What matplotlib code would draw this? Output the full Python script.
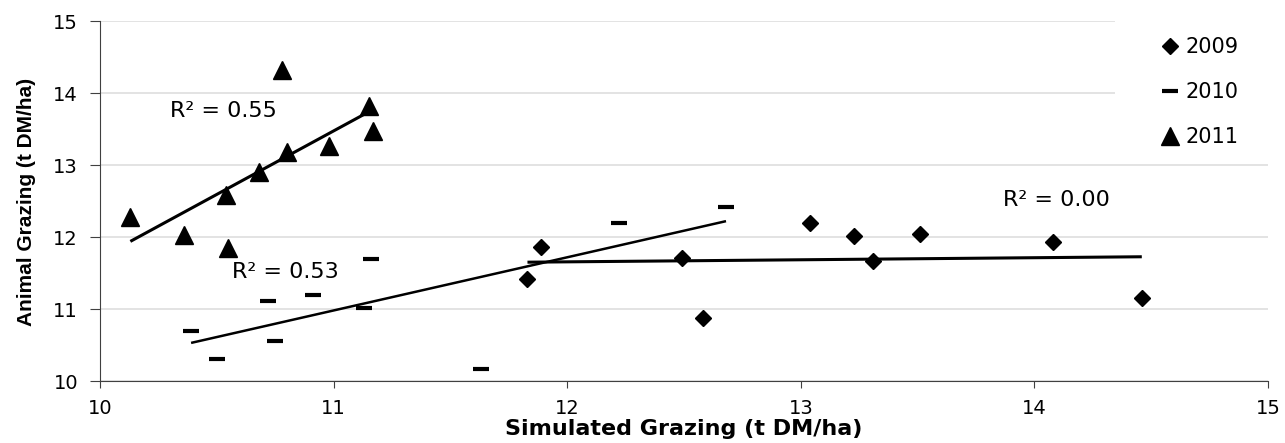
import numpy as np
import matplotlib
matplotlib.use("Agg")
import matplotlib.pyplot as plt
from matplotlib.patches import Rectangle

# the reference is stretched sideways, so the wider DejaVu Sans fits it better
plt.rcParams['font.family'] = ['DejaVu Sans']

# values
x_2009 = [11.83, 11.89, 12.49, 12.58, 13.04, 13.23, 13.31, 13.51, 14.08, 14.46]
y_2009 = [11.42, 11.86, 11.71, 10.88, 12.19, 12.01, 11.66, 12.04, 11.93, 11.15]

x_2010 = [10.39, 10.50, 10.72, 10.75, 10.91, 11.13, 11.16, 11.63, 12.22, 12.68]
y_2010 = [10.69, 10.30, 11.11, 10.56, 11.19, 11.01, 11.70, 10.16, 12.20, 12.42]

x_2011 = [10.13, 10.36, 10.54, 10.55, 10.68, 10.78, 10.80, 10.98, 11.15, 11.17]
y_2011 = [12.28, 12.03, 12.58, 11.85, 12.90, 14.32, 13.18, 13.26, 13.82, 13.47]

r2_labels = ["R\u00b2 = 0.00", "R\u00b2 = 0.53", "R\u00b2 = 0.55"]
ticks = [10, 11, 12, 13, 14, 15]

fig = plt.figure(figsize=(12.85, 4.43), dpi=100)
ax = fig.add_axes([0.07782, 0.13995, 0.9089, 0.8126])

ax.plot(x_2009, y_2009, 'D', color='black', ms=8, ls='none', label='2009')
ax.plot(x_2010, y_2010, '_', color='black', ms=11, mew=3, ls='none', label='2010')
ax.plot(x_2011, y_2011, '^', color='black', ms=12.5, ls='none', label='2011')

# linear trendlines
for xs, ys, lw in [(x_2009, y_2009, 2.2), (x_2010, y_2010, 1.8), (x_2011, y_2011, 2.2)]:
    k, b = np.polyfit(xs, ys, 1)
    xx = np.array([min(xs), max(xs)])
    ax.plot(xx, k * xx + b, color='black', lw=lw, solid_capstyle='butt')

ax.text(13.866, 12.51, r2_labels[0], fontsize=16, va='center')
ax.text(10.565, 11.51, r2_labels[1], fontsize=16, va='center')
ax.text(10.30, 13.75, r2_labels[2], fontsize=16, va='center')

ax.set_xlim(10, 15)
ax.set_ylim(10, 15)
ax.set_xticks(ticks)
ax.set_yticks(ticks)
ax.grid(axis='y', color='#e0e0e0', lw=1.3)
ax.set_axisbelow(True)
for s in ['top', 'right']:
    ax.spines[s].set_visible(False)
for s in ['left', 'bottom']:
    ax.spines[s].set_color('#404040')
ax.tick_params(axis='y', length=7.2, pad=8.6, labelsize=14, color='#404040')
ax.tick_params(axis='x', length=5, pad=8.3, labelsize=14, color='#404040')

ax.set_xlabel('Simulated Grazing (t DM/ha)', fontsize=16, fontweight='bold')
ax.xaxis.set_label_coords(0.5, -0.1056)
ax.set_ylabel('Animal Grazing (t DM/ha)', fontsize=15, fontweight='bold',
              family=['Liberation Sans', 'DejaVu Sans'])
ax.yaxis.set_label_coords(-0.0548, 0.4986)

# white block behind the legend hides the upper gridlines
ax.add_patch(Rectangle((0.869, 0.7), 0.2, 0.32, transform=ax.transAxes,
                       facecolor='white', edgecolor='none', zorder=1, clip_on=False))

leg = ax.legend(loc='upper left', bbox_to_anchor=(0.902, 0.978), fontsize=15,
                frameon=False, handlelength=0.8, handletextpad=0.35,
                labelspacing=1.2, borderpad=0.4, borderaxespad=0)

fig.savefig('out.png', dpi=100)
